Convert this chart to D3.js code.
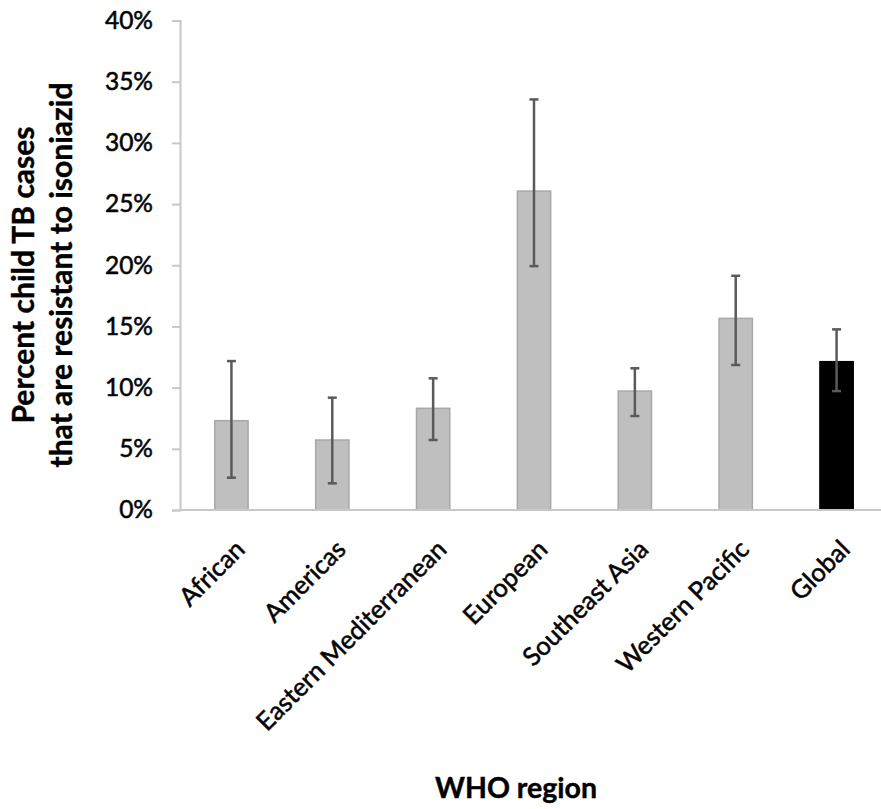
<!DOCTYPE html>
<html>
<head>
<meta charset="utf-8">
<script src="https://cdn.jsdelivr.net/npm/d3@7"></script>
<style>
  body { margin: 0; background: #fff; }
  text { font-family: Lato, "Open Sans", sans-serif; fill: #000; }
</style>
</head>
<body>
<svg id="chart"></svg>
<script>
// data
const regions = ["African", "Americas", "Eastern Mediterranean", "European", "Southeast Asia", "Western Pacific", "Global"];
const percent = [0.073, 0.0572, 0.0831, 0.2606, 0.0972, 0.1566, 0.1212];
const ciLow = [0.0264, 0.0218, 0.0572, 0.1993, 0.0768, 0.1185, 0.0972];
const ciHigh = [0.1217, 0.0918, 0.1076, 0.3355, 0.1158, 0.1914, 0.1476];
const yTicks = [0, 0.05, 0.10, 0.15, 0.20, 0.25, 0.30, 0.35, 0.40];

const W = 881, H = 809;
const svg = d3.select("#chart")
    .attr("width", W)
    .attr("height", H);

const x = d3.scaleBand()
    .domain(regions)
    .range([181, 887])
    .paddingInner(0.67)
    .paddingOuter(0.335);

const y = d3.scaleLinear()
    .domain([0, 0.4])
    .range([510, 20.5]);

// Y axis
const yAxis = svg.append("g")
    .attr("transform", "translate(180,0)")
    .call(d3.axisLeft(y).tickValues(yTicks).tickFormat(d3.format(".0%")).tickSize(8).tickPadding(19));
yAxis.select(".domain").attr("stroke", "#c8c8c8").attr("stroke-width", 2);
yAxis.selectAll(".tick line").attr("stroke", "#c8c8c8").attr("stroke-width", 2);
yAxis.selectAll(".tick text")
    .style("font-family", "Lato, sans-serif")
    .style("font-size", "24.5px")
    .attr("fill", "#111")
    .attr("stroke", "#111")
    .attr("stroke-width", 0.6);

// Bars
svg.selectAll("rect.bar")
    .data(regions)
    .join("rect")
    .attr("class", "bar")
    .attr("x", d => x(d))
    .attr("width", x.bandwidth())
    .attr("y", (d, i) => y(percent[i]))
    .attr("height", (d, i) => y(0) - y(percent[i]))
    .attr("fill", d => d === "Global" ? "#000" : "#bfbfbf")
    .attr("stroke", d => d === "Global" ? "#000" : "#a8a8a8")
    .attr("stroke-width", 1.5);

// X axis line
svg.append("line")
    .attr("x1", 180).attr("x2", W)
    .attr("y1", y(0)).attr("y2", y(0))
    .attr("stroke", "#c8c8c8")
    .attr("stroke-width", 2);

// Error bars
const cx = d => x(d) + x.bandwidth() / 2;
const err = svg.append("g").attr("stroke", "#5a5a5a").attr("stroke-width", 2.5);
regions.forEach((d, i) => {
    err.append("line")
        .attr("x1", cx(d)).attr("x2", cx(d))
        .attr("y1", y(ciLow[i])).attr("y2", y(ciHigh[i]));
    [ciLow[i], ciHigh[i]].forEach(v => {
        err.append("line")
            .attr("x1", cx(d) - 4.5).attr("x2", cx(d) + 4.5)
            .attr("y1", y(v)).attr("y2", y(v));
    });
});

// Category labels, rotated
svg.selectAll("text.cat")
    .data(regions)
    .join("text")
    .attr("class", "cat")
    .attr("text-anchor", "end")
    .attr("transform", d => `translate(${cx(d) + 15},${y(0) + 41}) rotate(-45)`)
    .style("font-size", "25.5px")
    .attr("fill", "#111")
    .attr("stroke", "#111")
    .attr("stroke-width", 0.6)
    .text(d => d);

// Y title
const yTitle = svg.append("text")
    .attr("transform", "translate(0,275) rotate(-90)")
    .attr("text-anchor", "middle")
    .style("font-size", "30px")
    .style("font-weight", "bold")
    .attr("stroke", "#000")
    .attr("stroke-width", 0.4);
yTitle.append("tspan").attr("x", 0).attr("y", 34).text("Percent child TB cases");
yTitle.append("tspan").attr("x", 0).attr("y", 72).text("that are resistant to isoniazid");

// X title
svg.append("text")
    .attr("x", 516)
    .attr("y", 798)
    .attr("text-anchor", "middle")
    .style("font-size", "28.5px")
    .style("font-weight", "bold")
    .attr("stroke", "#000")
    .attr("stroke-width", 0.4)
    .text("WHO region");
</script>
</body>
</html>
